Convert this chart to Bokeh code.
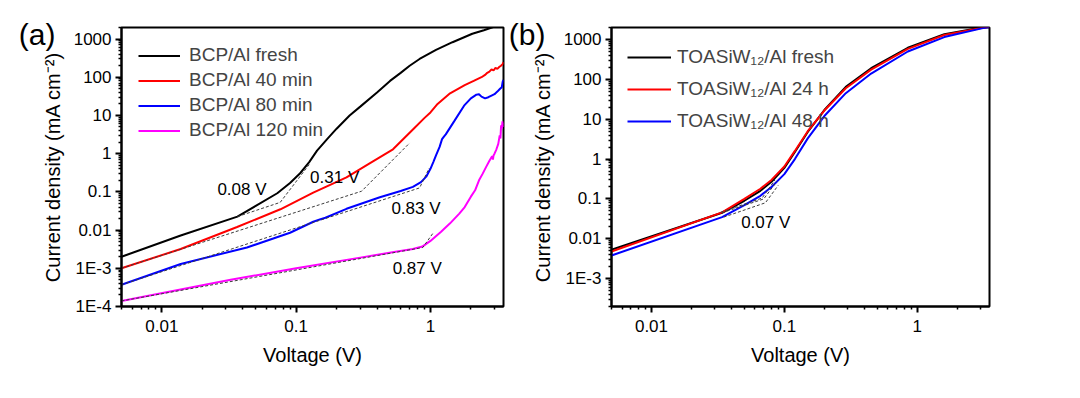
from bokeh.plotting import figure
from bokeh.models import (FixedTicker, CustomJSTickFormatter, Legend, LegendItem, Range1d,
                          LogAxis)
from bokeh.layouts import row
from bokeh.embed import file_html
from bokeh.resources import INLINE
from bokeh.core.properties import value

# ---------------- data: panel (a) ----------------
va_fresh = [0.005, 0.0138, 0.0365, 0.05, 0.0723, 0.09, 0.107, 0.125, 0.143, 0.17, 0.2, 0.25, 0.3,
            0.4, 0.5, 0.6, 0.7, 0.83, 1.1, 1.46, 2.05, 2.5, 2.9, 3.2]
ja_fresh = [2.0e-3, 7.2e-3, 0.0225, 0.043, 0.092, 0.17, 0.307, 0.6, 1.2, 2.4, 4.5, 10, 17,
            40, 80, 130, 200, 300, 520, 824, 1370, 1700, 2030, 2300]

va_40 = [0.005, 0.0138, 0.0363, 0.0763, 0.134, 0.237, 0.35, 0.526, 0.75, 0.9, 1.0, 1.13, 1.4, 1.8,
         2.1, 2.4, 2.55, 2.65, 2.75, 2.85, 2.95, 3.05, 3.15, 3.25, 3.35, 3.45, 3.5]
ja_40 = [1.0e-3, 3.2e-3, 0.012, 0.035, 0.095, 0.24, 0.55, 1.3, 4.5, 8.5, 12, 20, 38, 62,
         80, 100, 115, 130, 140, 160, 150, 175, 165, 185, 200, 220, 250]

va_80 = [0.005, 0.0138, 0.043, 0.09, 0.134, 0.15, 0.165, 0.237, 0.42, 0.6, 0.74, 0.85, 0.93, 1.0,
         1.05, 1.1, 1.17, 1.22, 1.26, 1.3, 1.5, 1.78, 2.0, 2.2, 2.3, 2.4, 2.55, 2.7, 2.85, 3.0,
         3.15, 3.3, 3.4, 3.45, 3.5]
ja_80 = [3.7e-4, 1.3e-3, 3.5e-3, 8.5e-3, 0.0165, 0.019, 0.021, 0.036, 0.072, 0.105, 0.135, 0.18,
         0.25, 0.4, 0.6, 0.9, 1.5, 2.4, 2.8, 3.2, 7, 18, 28, 35, 36, 31, 28, 30, 33, 36, 42, 50,
         55, 75, 85]

va_120 = [0.005, 0.0325, 0.1, 0.3, 0.55, 0.74, 0.87, 1.0, 1.2, 1.4, 1.64, 1.8, 2.0, 2.15, 2.3,
          2.45, 2.6, 2.75, 2.88, 2.92, 2.95, 3.0, 3.1, 3.2, 3.28, 3.32, 3.36, 3.4, 3.44, 3.47, 3.5]
ja_120 = [1.4e-4, 5.0e-4, 1.0e-3, 1.9e-3, 2.7e-3, 3.2e-3, 3.7e-3, 5.2e-3, 9e-3, 0.015, 0.027,
          0.04, 0.075, 0.11, 0.2, 0.3, 0.45, 0.65, 0.85, 0.7, 0.9, 1.0, 1.3, 1.8, 3.0, 2.5, 5.5,
          4.5, 7.0, 5.0, 6.5]

labels_a = ["BCP/Al fresh", "BCP/Al 40 min", "BCP/Al 80 min", "BCP/Al 120 min"]

# tangent (onset) construction lines, panel (a)
tan_a_fresh_v = [0.0365, 0.076, 0.125]
tan_a_fresh_j = [0.0225, 0.053, 0.52]
tan_a_40_v = [0.005, 0.307, 0.70]
tan_a_40_j = [1.0e-3, 0.104, 1.9]
tan_a_80_v = [0.005, 0.83, 0.98]
tan_a_80_j = [3.7e-4, 0.127, 0.42]
tan_a_120_v = [0.005, 0.877, 1.05]
tan_a_120_j = [1.4e-4, 3.5e-3, 8.5e-3]

ann_a_text = ["0.08 V", "0.31 V", "0.83 V", "0.87 V"]
ann_a_v = [0.0259, 0.127, 0.512, 0.523]
ann_a_j = [0.115, 0.232, 0.0359, 9.6e-4]

# ---------------- data: panel (b) ----------------
vb = [0.005, 0.034, 0.05, 0.066, 0.08, 0.1, 0.12, 0.15, 0.2, 0.29, 0.45, 0.85, 1.6, 3.06, 3.5]
jb_fresh = [5.3e-3, 0.045, 0.09, 0.16, 0.27, 0.6, 1.5, 4.8, 17, 65, 190, 620, 1350, 2000, 2100]
jb_24 = [4.8e-3, 0.046, 0.1, 0.18, 0.3, 0.65, 1.6, 5.0, 16.5, 60, 175, 580, 1300, 1950, 2100]
jb_48 = [3.8e-3, 0.035, 0.07, 0.12, 0.2, 0.42, 1.0, 3.3, 12, 45, 140, 500, 1150, 1900, 2050]

labels_b = ["TOASiW\u2081\u2082/Al fresh", "TOASiW\u2081\u2082/Al 24 h", "TOASiW\u2081\u2082/Al 48 h"]

tan_b_fresh_v = [0.034, 0.07, 0.088]
tan_b_fresh_j = [0.045, 0.1, 0.28]
tan_b_24_v = [0.033, 0.068, 0.085]
tan_b_24_j = [0.046, 0.105, 0.3]
tan_b_48_v = [0.035, 0.072, 0.09]
tan_b_48_j = [0.035, 0.08, 0.22]

ann_b_text = ["0.07 V"]
ann_b_v = [0.0473]
ann_b_j = [0.026]

panel_tags = ["(a)", "(b)"]
panel_tag_j = [1300, 1330]   # vertical position of the panel tags (y-data units)

x_major = [0.01, 0.1, 1]
ya_major = [1e-4, 1e-3, 0.01, 0.1, 1, 10, 100, 1000]
yb_major = [1e-3, 0.01, 0.1, 1, 10, 100, 1000]

FONT = "Liberation Sans"
COLORS = ["#000000", "#FF0000", "#0000FF", "#FF00FF"]
DASH_COLOR = "#3c3c3c"

fmt = CustomJSTickFormatter(code="""
const e = Math.round(Math.log10(tick));
if (e <= -3) { return "1E" + e; }
if (e < 0) { return Math.pow(10, e).toFixed(-e); }
return String(Math.round(Math.pow(10, e)));
""")


def minors(lo, hi):
    out = []
    for e in range(-5, 4):
        for k in range(2, 10):
            t = k * 10.0 ** e
            if lo <= t <= hi:
                out.append(t)
    return out


def make_fig(xr, yr, ymaj, b_left, b_top, b_right, b_bottom, fw):
    p = figure(x_axis_type="log", y_axis_type="log",
               x_range=Range1d(*xr), y_range=Range1d(*yr),
               frame_width=fw, frame_height=279,
               min_border_left=b_left, min_border_right=b_right,
               min_border_top=b_top, min_border_bottom=b_bottom,
               output_backend="svg", toolbar_location=None)
    p.xgrid.visible = False
    p.ygrid.visible = False
    p.outline_line_color = "black"
    p.outline_line_width = 2
    p.outline_line_alpha = 1
    p.background_fill_color = "white"
    p.border_fill_color = "white"
    p.xaxis.ticker = FixedTicker(ticks=x_major, minor_ticks=minors(*xr))
    p.yaxis.ticker = FixedTicker(ticks=ymaj, minor_ticks=minors(*yr))
    for ax in (p.xaxis[0], p.yaxis[0]):
        ax.formatter = fmt
        ax.axis_line_width = 2
        ax.axis_line_color = "black"
        ax.major_tick_line_width = 2
        ax.major_tick_line_color = "black"
        ax.minor_tick_line_width = 1.5
        ax.minor_tick_line_color = "black"
        ax.major_tick_in = 0
        ax.major_tick_out = 6
        ax.minor_tick_in = 0
        ax.minor_tick_out = 3
        ax.major_label_text_font = FONT
        ax.major_label_text_font_size = "17px"
        ax.major_label_text_color = "black"
        ax.axis_label_text_font = FONT
        ax.axis_label_text_font_size = "20px"
        ax.axis_label_text_font_style = "normal"
        ax.axis_label_text_color = "black"
    p.xaxis.axis_label = "Voltage (V)"
    p.yaxis.axis_label = "Current density (mA cm\u207B\u00B2)"
    p.xaxis.major_label_standoff = 7
    p.xaxis.axis_label_standoff = 9
    p.yaxis.major_label_standoff = 4
    p.yaxis.axis_label_standoff = 7
    return p


def add_tag(p, tag, pos):
    # panel tag "(a)"/"(b)" drawn as the single label of a bare outer axis
    ax = LogAxis(ticker=FixedTicker(ticks=[pos], minor_ticks=[]),
                 formatter=CustomJSTickFormatter(args=dict(t=tag), code="return t;"))
    ax.axis_line_color = None
    ax.major_tick_line_color = None
    ax.minor_tick_line_color = None
    ax.major_tick_out = 0
    ax.major_tick_in = 0
    ax.minor_tick_out = 0
    ax.minor_tick_in = 0
    ax.major_label_standoff = -17
    ax.major_label_text_font = FONT
    ax.major_label_text_font_size = "30px"
    ax.major_label_text_color = "black"
    p.add_layout(ax, "left")


# ---------------- panel (a) ----------------
pa = make_fig((0.005, 3.5), (1e-4, 2000), ya_major, 121, 27, 2, 70, 382)
series_a = [(va_fresh, ja_fresh), (va_40, ja_40), (va_80, ja_80), (va_120, ja_120)]
rend_a = []
for (v, j), c in zip(series_a, COLORS):
    rend_a.append(pa.line(v, j, line_color=c, line_width=2))
for v, j in [(tan_a_fresh_v, tan_a_fresh_j), (tan_a_40_v, tan_a_40_j),
             (tan_a_80_v, tan_a_80_j), (tan_a_120_v, tan_a_120_j)]:
    pa.line(v, j, line_color=DASH_COLOR, line_width=1, line_dash="3 2")
pa.text(x=ann_a_v, y=ann_a_j, text=ann_a_text, text_font=value(FONT), text_font_size="17px",
        text_align="left", text_baseline="middle", text_color="black")
leg_a = Legend(items=[LegendItem(label=l, renderers=[r]) for l, r in zip(labels_a, rend_a)],
               location="top_left", margin=0, padding=17, spacing=3,
               glyph_width=42, glyph_height=21, label_height=21, label_standoff=9,
               label_text_font=FONT, label_text_font_size="19px",
               border_line_alpha=0, background_fill_alpha=0)
pa.add_layout(leg_a)
add_tag(pa, panel_tags[0], panel_tag_j[0])

# ---------------- panel (b) ----------------
pb = make_fig((0.005, 3.5), (2e-4, 2000), yb_major, 106, 25, 20, 72, 378)
series_b = [jb_fresh, jb_24, jb_48]
rend_b = []
for j, c in zip(series_b, COLORS[:3]):
    rend_b.append(pb.line(vb, j, line_color=c, line_width=2))
for v, j in [(tan_b_fresh_v, tan_b_fresh_j), (tan_b_24_v, tan_b_24_j), (tan_b_48_v, tan_b_48_j)]:
    pb.line(v, j, line_color=DASH_COLOR, line_width=1, line_dash="3 2")
pb.text(x=ann_b_v, y=ann_b_j, text=ann_b_text, text_font=value(FONT), text_font_size="17px",
        text_align="left", text_baseline="middle", text_color="black")
leg_b = Legend(items=[LegendItem(label=l, renderers=[r]) for l, r in zip(labels_b, rend_b)],
               location="top_left", margin=0, padding=16, spacing=4,
               glyph_width=44, glyph_height=28, label_height=28, label_standoff=6,
               label_text_font=FONT, label_text_font_size="19px",
               border_line_alpha=0, background_fill_alpha=0)
pb.add_layout(leg_b)
add_tag(pb, panel_tags[1], panel_tag_j[1])

layout = row(pa, pb)
open("out.html", "w").write(file_html(layout, INLINE))
